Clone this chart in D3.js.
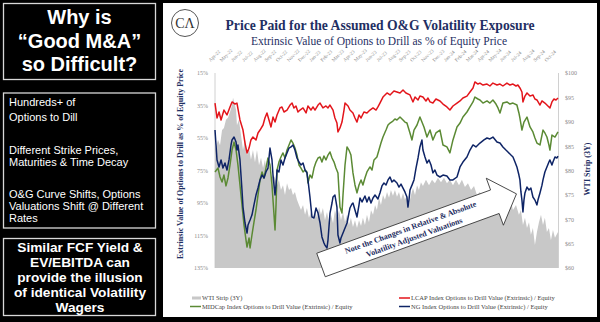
<!DOCTYPE html>
<html><head><meta charset="utf-8">
<script src="https://cdn.jsdelivr.net/npm/d3@7"></script>
<style>
html,body{margin:0;padding:0;background:#000;}
svg{display:block;}
</style></head>
<body>
<svg id="c" width="600" height="322"></svg>
<script>
// ---------- DATA ----------
const months = ["Apr-22","May-22","Jun-22","Jul-22","Aug-22","Sep-22","Oct-22","Nov-22","Dec-22","Jan-23","Feb-23","Mar-23","Apr-23","May-23","Jun-23","Jul-23","Aug-23","Sep-23","Oct-23","Nov-23","Dec-23","Jan-24","Feb-24","Mar-24","Apr-24","May-24","Jun-24","Jul-24","Aug-24","Sep-24","Oct-24"];
const leftTicks = [15,35,55,75,95,115,135];
const rightTicks = [60,65,70,75,80,85,90,95,100];

// [months since Apr-22, value]
const wti = [[0,84.2],[0.27,86.3],[0.45,85.2],[0.63,88.3],[0.8,88.7],[0.98,90.4],[1.16,90.8],[1.34,92.0],[1.52,93.4],[1.61,94.9],[1.7,94.1],[1.88,92.4],[1.96,89.3],[2.14,90.4],[2.32,87.3],[2.5,84.2],[2.68,86.3],[2.86,83.2],[3.04,84.6],[3.21,82.2],[3.39,84.2],[3.57,81.7],[3.75,84.2],[3.93,81.1],[4.11,82.6],[4.29,80.5],[4.46,82.2],[4.64,79.7],[4.82,81.1],[5.0,78.1],[5.18,79.1],[5.36,78.5],[5.54,77.0],[5.71,78.1],[5.89,76.0],[6.07,77.0],[6.25,75.0],[6.43,77.4],[6.61,76.0],[6.79,76.4],[6.96,75.0],[7.14,75.6],[7.32,74.0],[7.5,72.9],[7.68,71.9],[7.86,72.9],[8.04,70.9],[8.21,72.3],[8.39,70.3],[8.57,71.5],[8.75,69.8],[8.93,71.9],[9.11,70.3],[9.29,72.5],[9.46,70.9],[9.64,72.3],[9.82,69.8],[10.0,71.5],[10.18,69.4],[10.36,70.9],[10.54,69.2],[10.71,71.9],[10.89,70.3],[11.07,71.9],[11.25,69.8],[11.43,71.5],[11.61,69.4],[11.79,70.9],[11.96,68.8],[12.14,70.3],[12.32,68.4],[12.5,69.8],[12.68,68.2],[12.86,69.8],[13.04,68.6],[13.21,70.3],[13.39,68.8],[13.57,70.9],[13.75,69.4],[13.93,71.9],[14.11,70.9],[14.29,72.9],[14.46,71.9],[14.64,74.4],[14.82,72.9],[15.0,75.0],[15.18,74.0],[15.36,75.6],[15.54,74.4],[15.71,76.0],[15.89,74.8],[16.07,76.0],[16.25,74.6],[16.43,75.6],[16.61,74.0],[16.79,75.4],[16.96,74.0],[17.14,75.0],[17.32,72.9],[17.5,75.0],[17.68,76.4],[17.86,75.0],[18.04,77.0],[18.21,76.0],[18.39,77.6],[18.57,76.8],[18.84,78.1],[19.11,77.0],[19.38,78.1],[19.64,77.4],[19.91,78.5],[20.18,77.6],[20.45,78.5],[20.71,77.4],[20.98,78.1],[21.25,77.0],[21.52,78.1],[21.79,77.0],[22.05,78.1],[22.32,76.6],[22.59,77.4],[22.86,76.0],[23.13,76.8],[23.39,75.0],[23.66,75.6],[23.93,74.0],[24.2,74.6],[24.46,72.5],[24.73,73.3],[25.0,71.9],[25.27,72.9],[25.54,71.5],[25.8,74.0],[26.07,72.3],[26.34,74.4],[26.61,71.9],[26.88,72.9],[27.14,70.9],[27.32,71.9],[27.5,68.8],[27.68,70.3],[27.86,68.2],[28.04,69.4],[28.21,66.8],[28.39,68.2],[28.57,64.7],[28.75,67.4],[28.93,69.4],[29.11,70.9],[29.29,68.8],[29.46,70.3],[29.64,67.4],[29.82,68.2],[30.0,65.7],[30.18,67.8],[30.36,66.2],[30.63,67.4]];

const lcap = [[0,33.5],[0.18,42.7],[0.36,39.0],[0.54,43.9],[0.8,37.8],[1.07,40.8],[1.34,35.9],[1.52,32.8],[1.79,34.1],[1.96,33.5],[2.23,43.9],[2.5,50.1],[2.68,58.1],[2.86,64.2],[3.04,61.2],[3.21,56.2],[3.39,54.4],[3.66,56.2],[3.84,51.9],[4.02,50.1],[4.29,47.0],[4.46,42.7],[4.64,39.6],[4.82,43.9],[5.0,48.2],[5.18,42.1],[5.36,45.2],[5.54,40.8],[5.8,36.5],[5.98,35.9],[6.16,39.0],[6.43,37.8],[6.7,34.7],[6.88,33.5],[7.05,36.5],[7.23,35.3],[7.41,39.0],[7.59,37.8],[7.86,36.5],[8.13,39.6],[8.3,35.3],[8.57,37.8],[8.75,35.9],[8.93,37.8],[9.2,34.7],[9.38,33.5],[9.64,36.5],[9.91,35.3],[10.09,36.5],[10.27,34.7],[10.54,37.8],[10.71,42.7],[10.89,45.8],[10.98,51.3],[11.16,48.8],[11.34,45.2],[11.52,37.8],[11.61,33.5],[11.88,35.3],[12.05,37.8],[12.32,39.6],[12.5,42.7],[12.68,45.2],[12.86,40.8],[13.04,42.7],[13.3,39.0],[13.57,39.6],[13.84,37.8],[14.11,36.5],[14.38,37.8],[14.55,35.9],[14.73,33.5],[15.0,29.8],[15.36,27.3],[15.63,28.5],[15.98,26.1],[16.25,26.7],[16.52,27.3],[16.79,25.5],[17.05,27.3],[17.41,28.5],[17.68,32.8],[17.86,29.8],[18.13,31.6],[18.3,29.2],[18.57,29.8],[18.84,32.2],[19.02,30.4],[19.2,32.8],[19.46,33.5],[19.73,31.0],[20.09,32.2],[20.36,34.1],[20.71,35.9],[20.98,37.8],[21.25,35.3],[21.61,33.5],[21.88,32.2],[22.14,30.4],[22.5,29.2],[22.77,26.7],[23.04,24.2],[23.21,20.5],[23.48,21.8],[23.66,21.2],[23.93,22.4],[24.29,21.8],[24.55,23.0],[24.82,21.2],[25.18,22.4],[25.45,21.8],[25.71,23.0],[26.07,21.2],[26.34,22.4],[26.61,21.8],[26.88,23.0],[27.05,22.4],[27.23,24.2],[27.41,26.7],[27.5,32.8],[27.68,29.2],[27.86,27.3],[28.13,29.2],[28.39,28.5],[28.57,31.0],[28.75,31.6],[29.02,34.7],[29.2,32.2],[29.46,33.5],[29.73,35.3],[29.91,36.5],[30.09,32.8],[30.27,31.0],[30.45,31.6],[30.63,30.4]];

const midcap = [[0,75.9],[0.27,73.5],[0.45,79.0],[0.63,82.1],[0.8,77.8],[0.98,84.5],[1.16,79.6],[1.34,71.6],[1.52,62.4],[1.7,57.5],[1.88,62.4],[2.05,71.6],[2.23,83.9],[2.41,96.2],[2.59,108.5],[2.77,117.8],[2.86,122.1],[3.04,116.5],[3.13,122.7],[3.3,114.7],[3.48,106.7],[3.66,99.3],[3.84,90.1],[4.02,80.8],[4.2,75.9],[4.38,79.6],[4.55,73.5],[4.73,67.3],[4.91,71.6],[5.09,83.9],[5.27,102.4],[5.36,111.6],[5.45,96.2],[5.54,74.7],[5.71,69.8],[5.89,66.7],[6.07,64.2],[6.25,67.3],[6.43,62.4],[6.61,59.3],[6.79,56.2],[6.96,58.1],[7.14,61.2],[7.32,65.5],[7.5,71.6],[7.68,73.5],[7.86,75.9],[8.04,74.7],[8.21,75.9],[8.3,82.7],[8.48,77.8],[8.66,79.6],[8.84,73.5],[9.02,69.8],[9.2,67.3],[9.38,66.7],[9.55,69.8],[9.73,66.1],[9.91,68.5],[10.09,65.5],[10.27,63.6],[10.45,67.3],[10.63,69.8],[10.8,73.5],[10.98,76.5],[11.07,87.0],[11.16,97.5],[11.34,101.2],[11.43,90.1],[11.61,71.6],[11.79,60.5],[11.96,62.4],[12.14,65.5],[12.32,76.5],[12.5,83.9],[12.68,88.8],[12.86,83.9],[13.04,80.8],[13.21,83.9],[13.39,79.6],[13.57,75.9],[13.84,72.8],[14.02,74.7],[14.2,68.5],[14.46,66.7],[14.64,62.4],[14.82,58.1],[15.0,54.4],[15.27,50.1],[15.45,47.0],[15.63,45.8],[15.89,44.6],[16.07,43.3],[16.25,43.9],[16.52,42.1],[16.79,43.9],[16.96,45.2],[17.14,45.8],[17.41,51.9],[17.59,56.2],[17.77,50.1],[18.04,47.0],[18.3,42.1],[18.48,45.2],[18.66,48.2],[18.93,54.4],[19.2,50.1],[19.46,56.2],[19.73,51.9],[20.09,50.1],[20.36,59.3],[20.71,60.5],[20.98,64.2],[21.25,56.2],[21.61,48.2],[21.88,45.8],[22.14,42.1],[22.5,39.0],[22.77,35.9],[23.04,32.8],[23.21,29.8],[23.48,31.0],[23.66,31.6],[23.93,33.5],[24.29,32.2],[24.55,33.5],[24.82,31.6],[25.09,34.1],[25.27,36.5],[25.45,39.6],[25.71,33.5],[26.07,32.8],[26.34,34.1],[26.61,33.5],[26.96,34.7],[27.14,39.6],[27.23,42.7],[27.41,50.1],[27.59,45.2],[27.86,42.1],[28.13,48.2],[28.39,51.3],[28.57,55.0],[28.75,58.1],[29.02,59.3],[29.29,50.1],[29.46,51.9],[29.64,54.4],[29.82,59.3],[29.91,62.4],[30.09,53.2],[30.36,54.4],[30.63,51.3]];

const ng = [[0,50.1],[0.09,59.3],[0.18,68.5],[0.36,72.8],[0.54,68.5],[0.71,73.5],[0.89,70.4],[1.07,74.7],[1.25,68.5],[1.43,59.3],[1.52,56.2],[1.7,54.4],[1.88,57.5],[1.96,62.4],[2.05,59.3],[2.23,68.5],[2.32,77.8],[2.41,87.0],[2.5,97.5],[2.68,107.3],[2.86,113.5],[2.95,108.5],[3.13,105.5],[3.3,102.4],[3.48,96.2],[3.66,90.1],[3.84,85.8],[4.02,80.8],[4.2,77.8],[4.38,79.6],[4.55,75.9],[4.73,73.5],[4.91,61.2],[5.09,68.5],[5.18,77.8],[5.36,90.1],[5.45,84.0],[5.54,74.7],[5.71,75.9],[5.89,68.5],[6.07,71.6],[6.25,67.3],[6.43,64.2],[6.61,61.2],[6.79,60.5],[6.96,59.3],[7.14,62.4],[7.32,67.3],[7.5,69.8],[7.68,71.6],[7.86,70.4],[8.04,74.7],[8.21,76.5],[8.3,80.8],[8.48,91.3],[8.66,103.6],[8.84,104.2],[9.02,98.1],[9.2,101.2],[9.38,107.3],[9.55,115.9],[9.73,119.6],[9.82,120.9],[10.0,122.7],[10.09,117.8],[10.27,101.2],[10.45,95.0],[10.54,91.3],[10.71,90.1],[10.89,97.5],[10.98,114.7],[11.16,119.6],[11.25,116.5],[11.43,113.5],[11.61,110.4],[11.79,107.3],[11.96,101.2],[12.05,98.1],[12.23,95.6],[12.32,95.0],[12.5,99.3],[12.68,103.6],[12.86,96.2],[12.95,91.9],[13.13,94.4],[13.21,93.2],[13.39,90.7],[13.57,94.4],[13.75,91.3],[13.93,95.0],[14.11,91.9],[14.29,90.1],[14.55,92.5],[14.73,88.8],[14.91,84.5],[15.09,82.7],[15.27,83.9],[15.45,80.8],[15.63,79.0],[15.8,82.1],[15.98,80.8],[16.25,82.7],[16.43,85.2],[16.61,83.4],[16.79,85.8],[16.96,88.2],[17.14,91.3],[17.23,97.5],[17.32,93.2],[17.41,87.0],[17.59,84.0],[17.77,80.8],[17.95,73.5],[18.13,67.3],[18.3,60.5],[18.48,56.2],[18.57,62.4],[18.75,66.7],[18.93,70.4],[19.11,68.5],[19.29,71.6],[19.46,76.5],[19.64,74.7],[19.82,77.8],[20.09,79.0],[20.36,77.8],[20.71,78.4],[20.98,80.8],[21.25,80.8],[21.61,79.0],[21.88,72.8],[22.14,69.8],[22.5,66.7],[22.77,62.4],[23.04,59.3],[23.3,60.5],[23.48,59.3],[23.66,58.1],[24.02,56.2],[24.29,55.0],[24.55,55.6],[24.82,54.4],[25.18,57.5],[25.45,58.1],[25.71,60.5],[25.98,62.4],[26.16,63.6],[26.43,65.5],[26.61,66.7],[26.79,69.8],[26.96,72.8],[27.14,77.8],[27.23,80.8],[27.32,88.2],[27.41,93.2],[27.5,100.5],[27.59,93.2],[27.68,88.8],[27.86,85.2],[28.04,87.0],[28.21,85.8],[28.39,91.3],[28.57,93.2],[28.75,96.2],[28.84,93.2],[29.02,88.8],[29.2,84.0],[29.29,80.8],[29.46,75.9],[29.64,72.8],[29.82,69.8],[29.91,68.5],[30.09,71.6],[30.18,69.8],[30.36,66.7],[30.54,67.3],[30.63,66.1]];

const sideTitle = ["Why is","\u201CGood M&A\u201D","so Difficult?"];
const sideMid = [["Hundreds+ of",0],["Options to Dill",15],["Different Strike Prices,",48],["Maturities & Time Decay",60],["O&G Curve Shifts, Options",92],["Valuations Shift @ Different",104],["Rates",116]];
const sideBottom = ["Similar FCF Yield &","EV/EBITDA can","provide the illusion","of identical Volatility","Wagers"];
const legendItems = [
  {label:"WTI Strip (3Y)", type:"area", color:"#c8c8c8", col:0,row:0},
  {label:"MIDCap Index Options to Drill Value (Extrinsic) / Equity", type:"line", color:"#5b8a34", col:0,row:1},
  {label:"LCAP Index Options to Drill Value (Extrinsic) / Equity", type:"line", color:"#e3151b", col:1,row:0},
  {label:"NG Index Options to Drill Value (Extrinsic) / Equity", type:"line", color:"#0e2466", col:1,row:1}
];

// ---------- DRAW ----------
const svg = d3.select("#c");
const navy = "#1f2f63";
const serif = "'Liberation Serif','DejaVu Serif',serif";
const sans = "'Liberation Sans',Arial,sans-serif";

// left panel boxes
const boxes = [[3,3,152,76],[3,92.5,152,135],[3,238,152,77]];
svg.selectAll("rect.box").data(boxes).enter().append("rect")
  .attr("x",d=>d[0]+0.5).attr("y",d=>d[1]+0.5).attr("width",d=>d[2]).attr("height",d=>d[3])
  .attr("fill","#000").attr("stroke","#d8d8d8").attr("stroke-width",1.3);

svg.selectAll("text.t1").data(sideTitle).enter().append("text")
  .attr("x",79.5).attr("y",(d,i)=>24+i*23.5).attr("text-anchor","middle")
  .attr("fill","#fff").attr("font-family",sans).attr("font-weight","bold").attr("font-size",20).text(d=>d);

svg.selectAll("text.t2").data(sideMid).enter().append("text")
  .attr("x",9).attr("y",d=>106+d[1]).attr("fill","#fff").attr("font-family",sans)
  .attr("font-size",11).text(d=>d[0]);

svg.selectAll("text.t3").data(sideBottom).enter().append("text")
  .attr("x",80).attr("y",(d,i)=>252+i*15).attr("text-anchor","middle")
  .attr("fill","#fff").attr("font-family",sans).attr("font-weight","bold").attr("font-size",13.7).text(d=>d);

// right panel
svg.append("rect").attr("x",163).attr("y",3).attr("width",434).attr("height",314).attr("fill","#fff");

// logo
svg.append("circle").attr("cx",185).attr("cy",23).attr("r",13.5).attr("fill","none").attr("stroke","#555").attr("stroke-width",1);
svg.append("text").attr("x",185).attr("y",28).attr("text-anchor","middle").attr("font-family",serif)
  .attr("font-size",14).attr("fill","#333").text("C\u039B");

svg.append("text").attr("x",380).attr("y",30).attr("text-anchor","middle").attr("font-family",serif)
  .attr("font-weight","bold").attr("font-size",14).attr("fill",navy)
  .attr("textLength",309).attr("lengthAdjust","spacingAndGlyphs")
  .text("Price Paid for the Assumed O&G Volatility Exposure");
svg.append("text").attr("x",379).attr("y",44.5).attr("text-anchor","middle").attr("font-family",serif)
  .attr("font-size",12).attr("fill",navy)
  .attr("textLength",256).attr("lengthAdjust","spacingAndGlyphs")
  .text("Extrinsic Value of Options to Drill as % of Equity Price");

// scales
const x = d3.scaleLinear().domain([0,30.63]).range([215,558]);
const yL = d3.scaleLinear().domain([15,135]).range([73,268]);
const yR = d3.scaleLinear().domain([60,100]).range([268,73]);

// WTI area
svg.append("path").datum(wti)
  .attr("d", d3.area().x(d=>x(d[0])).y0(yR(60)).y1(d=>yR(d[1])))
  .attr("fill","#c8c8c8");

// plot frame lines
svg.append("line").attr("x1",215).attr("x2",215).attr("y1",73).attr("y2",268).attr("stroke","#c4c4c4").attr("stroke-width",0.8);
svg.append("line").attr("x1",558.5).attr("x2",558.5).attr("y1",73).attr("y2",268).attr("stroke","#c4c4c4").attr("stroke-width",0.8);

const line = (ys)=>d3.line().x(d=>x(d[0])).y(d=>ys(d[1]));
[[lcap,"#e3151b"],[midcap,"#5b8a34"],[ng,"#0e2466"]].forEach(([s,c])=>{
  svg.append("path").datum(s).attr("d",line(yL)).attr("fill","none").attr("stroke",c)
    .attr("stroke-width",1.5).attr("stroke-linejoin","round");
});

// axes
const axL = svg.append("g").attr("transform","translate(211,0)")
  .call(d3.axisLeft(yL).tickValues(leftTicks).tickFormat(d=>d+"%").tickSize(0));
const axR = svg.append("g").attr("transform","translate(562,0)")
  .call(d3.axisRight(yR).tickValues(rightTicks).tickFormat(d=>"$"+d).tickSize(0));
const axT = svg.append("g").attr("transform","translate(0,62)")
  .call(d3.axisTop(x).tickValues(d3.range(months.length)).tickFormat(i=>months[i]).tickSize(0));
[axL,axR,axT].forEach(a=>{
  a.select(".domain").remove();
  a.selectAll("text").attr("font-family",serif).attr("fill","#8a8a8a").attr("font-size",6);
});
axT.selectAll("text").attr("x",0).attr("y",0).attr("dy",0).attr("text-anchor","start")
  .attr("font-size",5).attr("transform","translate(-5,0) rotate(-45)");

// axis titles
svg.append("text").attr("transform","translate(183,164) rotate(-90)").attr("text-anchor","middle")
  .attr("font-family",serif).attr("font-weight","bold").attr("font-size",8).attr("fill",navy)
  .attr("textLength",190).attr("lengthAdjust","spacingAndGlyphs")
  .text("Extrinsic Value of Options  to Drill as % of Equity Price");
svg.append("text").attr("transform","translate(590,169) rotate(-90)").attr("text-anchor","middle")
  .attr("font-family",serif).attr("font-weight","bold").attr("font-size",8).attr("fill",navy)
  .text("WTI Strip (3Y)");

// annotation arrow
const ang = -20;
const arrow = svg.append("g").attr("transform",`translate(321,265) rotate(${ang})`);
arrow.append("path").attr("d","M0,-12.5 L185,-12.5 L185,-25 L208,0 L185,25 L185,12.5 L0,12.5 Z")
  .attr("fill","#fff").attr("stroke","#333").attr("stroke-width",0.8);
arrow.append("text").attr("x",97).attr("y",-2).attr("text-anchor","middle").attr("font-family",serif)
  .attr("font-weight","bold").attr("font-size",8).attr("fill",navy).text("Note the Changes in Relative & Absolute");
arrow.append("text").attr("x",97).attr("y",8.5).attr("text-anchor","middle").attr("font-family",serif)
  .attr("font-weight","bold").attr("font-size",8).attr("fill",navy).text("Volatility Adjusted Valuations");

// legend
const lg = svg.append("g");
const lgX = [190,399], lgY = [298,306.5];
legendItems.forEach(it=>{
  const gx = lgX[it.col], gy = lgY[it.row];
  if(it.type==="area") lg.append("rect").attr("x",gx+2).attr("y",gy-1.5).attr("width",9).attr("height",3).attr("fill",it.color);
  else lg.append("line").attr("x1",gx).attr("x2",gx+11).attr("y1",gy).attr("y2",gy).attr("stroke",it.color).attr("stroke-width",1.5);
  lg.append("text").attr("x",gx+12).attr("y",gy+2).attr("font-family",serif).attr("font-size",6.5)
    .attr("fill","#444").text(it.label);
});
</script>
</body></html>
